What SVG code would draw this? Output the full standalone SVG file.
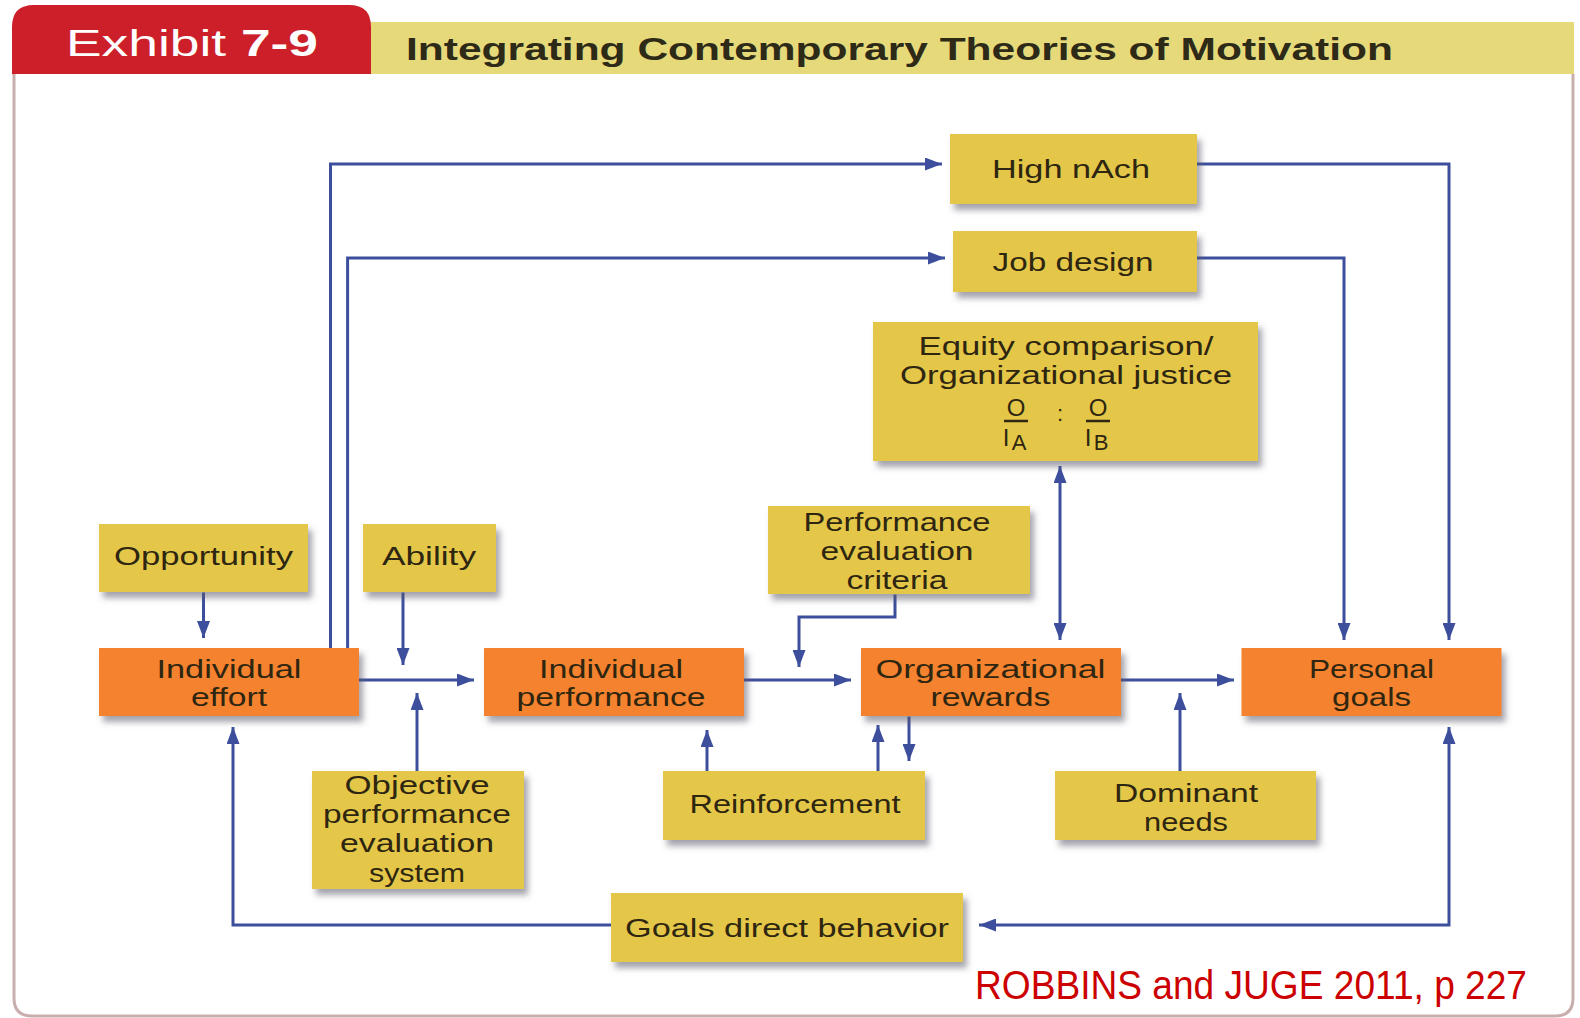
<svg xmlns="http://www.w3.org/2000/svg" width="1580" height="1018" viewBox="0 0 1580 1018">
<style>
.bg{fill:#ffffff}
.frame{fill:none;stroke:#c9aeae;stroke-width:3}
.y{fill:#e4c74a;filter:url(#sh)}
.o{fill:#f5822e;filter:url(#sh)}
.t{font-family:"Liberation Sans",Arial,sans-serif;font-size:26px;fill:#2e2610;text-anchor:middle}
.f{font-family:"Liberation Sans",Arial,sans-serif;fill:#2e2610;text-anchor:middle}
.c{fill:none;stroke:#3d4f9c;stroke-width:3}
</style>
<defs>
<filter id="sh" x="-10%" y="-20%" width="125%" height="150%">
<feDropShadow dx="4" dy="6" stdDeviation="3" flood-color="#5a5a6a" flood-opacity="0.55"/>
</filter>
<marker id="ah" viewBox="0 0 17 13" markerUnits="userSpaceOnUse" markerWidth="17" markerHeight="13" refX="17" refY="6.5" orient="auto-start-reverse">
<path d="M0,0 L17,6.5 L0,13 z" fill="#3d4f9c"/>
</marker>
</defs>
<rect class="bg" x="0" y="0" width="1580" height="1018"/>
<g id="frame">
<path class="frame" d="M14,74 V998 Q14,1016 32,1016 H1555 Q1573,1016 1573,998 V74"/>
</g>
<g id="header">
<path d="M12,74 V27 Q12,5 34,5 H349 Q371,5 371,27 V74 Z" fill="#cc1f2a"/>
<rect x="371" y="22" width="1203" height="52" fill="#e6d97a"/>
<text x="66" y="56" font-family="'Liberation Sans',Arial,sans-serif" font-size="36" fill="#ffffff" textLength="252" lengthAdjust="spacingAndGlyphs">Exhibit <tspan font-weight="bold">7-9</tspan></text>
<text x="406" y="60" font-family="'Liberation Sans',Arial,sans-serif" font-size="32" font-weight="bold" fill="#2e2a18" textLength="987" lengthAdjust="spacingAndGlyphs">Integrating Contemporary Theories of Motivation</text>
</g>
<g id="connectors">
<path class="c" d="M330.5,648 V164 H942" marker-end="url(#ah)"/>
<path class="c" d="M347.6,648 V258 H945" marker-end="url(#ah)"/>
<path class="c" d="M1197,164 H1449 V640" marker-end="url(#ah)"/>
<path class="c" d="M1197,258 H1344 V640" marker-end="url(#ah)"/>
<path class="c" d="M1060,466 V640" marker-start="url(#ah)" marker-end="url(#ah)"/>
<path class="c" d="M895,594.5 V617 H799 V667" marker-end="url(#ah)"/>
<path class="c" d="M203.5,592.5 V638" marker-end="url(#ah)"/>
<path class="c" d="M403,592.5 V665" marker-end="url(#ah)"/>
<path class="c" d="M359,680 H474" marker-end="url(#ah)"/>
<path class="c" d="M417,771 V693" marker-end="url(#ah)"/>
<path class="c" d="M744,680 H851" marker-end="url(#ah)"/>
<path class="c" d="M707,771 V730" marker-end="url(#ah)"/>
<path class="c" d="M878,771 V725" marker-end="url(#ah)"/>
<path class="c" d="M909,716.5 V761" marker-end="url(#ah)"/>
<path class="c" d="M1121,680 H1234" marker-end="url(#ah)"/>
<path class="c" d="M1180,771 V693" marker-end="url(#ah)"/>
<path class="c" d="M1449,727 V925 H979" marker-start="url(#ah)" marker-end="url(#ah)"/>
<path class="c" d="M611,925 H233 V727" marker-end="url(#ah)"/>
</g>
<g id="high-nach">
<rect class="y" x="950" y="134" width="247" height="70"/>
<text class="t" x="1071" y="178" textLength="158" lengthAdjust="spacingAndGlyphs">High nAch</text>
</g>
<g id="job-design">
<rect class="y" x="953" y="231" width="244" height="61"/>
<text class="t" x="1073" y="271" textLength="161" lengthAdjust="spacingAndGlyphs">Job design</text>
</g>
<g id="equity">
<rect class="y" x="873" y="322" width="385" height="139"/>
<text class="t" x="1066" y="355" textLength="295" lengthAdjust="spacingAndGlyphs">Equity comparison/</text>
<text class="t" x="1066" y="384" textLength="332" lengthAdjust="spacingAndGlyphs">Organizational justice</text>
<text class="f" x="1016" y="416" font-size="24">O</text>
<line x1="1004" y1="421" x2="1028" y2="421" stroke="#2e2610" stroke-width="2.5"/>
<text class="f" x="1006" y="446" font-size="24">I</text>
<text class="f" x="1019" y="450" font-size="22">A</text>
<text class="f" x="1060" y="421" font-size="22">:</text>
<text class="f" x="1098" y="416" font-size="24">O</text>
<line x1="1086" y1="421" x2="1110" y2="421" stroke="#2e2610" stroke-width="2.5"/>
<text class="f" x="1088" y="446" font-size="24">I</text>
<text class="f" x="1101" y="450" font-size="22">B</text>
</g>
<g id="perf-criteria">
<rect class="y" x="768" y="506" width="262" height="88"/>
<text class="t" x="897" y="531" textLength="187" lengthAdjust="spacingAndGlyphs">Performance</text>
<text class="t" x="897" y="560" textLength="153" lengthAdjust="spacingAndGlyphs">evaluation</text>
<text class="t" x="897" y="589" textLength="101" lengthAdjust="spacingAndGlyphs">criteria</text>
</g>
<g id="opportunity">
<rect class="y" x="99" y="524" width="209" height="68"/>
<text class="t" x="203.5" y="565" textLength="179" lengthAdjust="spacingAndGlyphs">Opportunity</text>
</g>
<g id="ability">
<rect class="y" x="363" y="524" width="133" height="68"/>
<text class="t" x="429" y="565" textLength="94" lengthAdjust="spacingAndGlyphs">Ability</text>
</g>
<g id="individual-effort">
<rect class="o" x="99" y="648" width="260" height="68"/>
<text class="t" x="229" y="678" textLength="145" lengthAdjust="spacingAndGlyphs">Individual</text>
<text class="t" x="229" y="706" textLength="76" lengthAdjust="spacingAndGlyphs">effort</text>
</g>
<g id="individual-performance">
<rect class="o" x="484" y="648" width="260" height="68"/>
<text class="t" x="611" y="678" textLength="144" lengthAdjust="spacingAndGlyphs">Individual</text>
<text class="t" x="611" y="706" textLength="189" lengthAdjust="spacingAndGlyphs">performance</text>
</g>
<g id="organizational-rewards">
<rect class="o" x="861" y="648" width="260" height="68"/>
<text class="t" x="990.5" y="678" textLength="230" lengthAdjust="spacingAndGlyphs">Organizational</text>
<text class="t" x="990.5" y="706" textLength="120" lengthAdjust="spacingAndGlyphs">rewards</text>
</g>
<g id="personal-goals">
<rect class="o" x="1241.5" y="648" width="260" height="68"/>
<text class="t" x="1371.5" y="678" textLength="125" lengthAdjust="spacingAndGlyphs">Personal</text>
<text class="t" x="1371.5" y="706" textLength="79" lengthAdjust="spacingAndGlyphs">goals</text>
</g>
<g id="objective-system">
<rect class="y" x="312" y="771" width="212" height="118"/>
<text class="t" x="417" y="794" textLength="145" lengthAdjust="spacingAndGlyphs">Objective</text>
<text class="t" x="417" y="823" textLength="188" lengthAdjust="spacingAndGlyphs">performance</text>
<text class="t" x="417" y="852" textLength="154" lengthAdjust="spacingAndGlyphs">evaluation</text>
<text class="t" x="417" y="882" textLength="96" lengthAdjust="spacingAndGlyphs">system</text>
</g>
<g id="reinforcement">
<rect class="y" x="663" y="771" width="262" height="69"/>
<text class="t" x="795" y="813" textLength="211" lengthAdjust="spacingAndGlyphs">Reinforcement</text>
</g>
<g id="dominant-needs">
<rect class="y" x="1055" y="771" width="261" height="69"/>
<text class="t" x="1186" y="802" textLength="144" lengthAdjust="spacingAndGlyphs">Dominant</text>
<text class="t" x="1186" y="831" textLength="84" lengthAdjust="spacingAndGlyphs">needs</text>
</g>
<g id="goals-direct-behavior">
<rect class="y" x="611" y="893" width="352" height="69"/>
<text class="t" x="787" y="937" textLength="324" lengthAdjust="spacingAndGlyphs">Goals direct behavior</text>
</g>
<text x="975" y="999" font-family="'Liberation Sans',Arial,sans-serif" font-size="40" fill="#cc0000" textLength="552" lengthAdjust="spacingAndGlyphs">ROBBINS and JUGE 2011, p 227</text>
</svg>
